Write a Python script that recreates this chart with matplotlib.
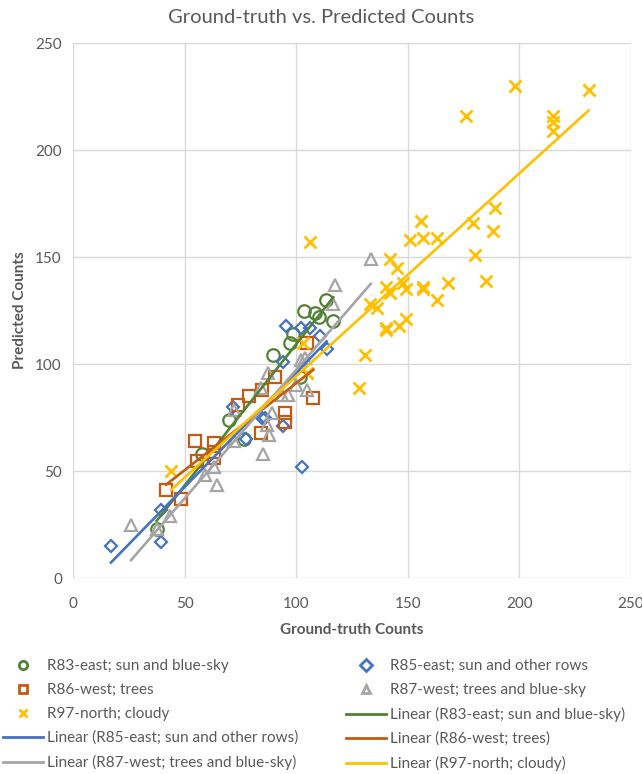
import numpy as np
import matplotlib
matplotlib.use('Agg')
import matplotlib.pyplot as plt
import matplotlib.ticker as tick
from matplotlib.lines import Line2D

plt.rcParams['font.family'] = ['Lato', 'DejaVu Sans']

# R83-east; sun and blue-sky
r83_x = [37.5, 57.7, 70, 76.5, 89.5, 97, 98.7, 101.7, 103.5, 108.4, 110, 113.4, 116.6]
r83_y = [23, 58, 74, 65, 104, 110, 114, 94, 125, 124, 122, 130, 120]
# R85-east; sun and other rows
r85_x = [17, 39.4, 39.4, 71.5, 77.5, 86, 94, 94, 95.4, 102, 106, 110.7, 113.6, 102.5, 84.5]
r85_y = [15, 17, 32, 80, 65, 75, 71, 101, 118, 117, 117, 113, 107, 52, 75]
# R86-west; trees
r86_x = [41.7, 48.5, 54.5, 55.4, 63, 63, 63, 74, 79, 84.5, 84, 90.5, 95, 95, 107.7, 104.7]
r86_y = [41, 37, 64, 54.5, 63, 59, 56, 81, 85, 88, 68, 94, 77, 73, 84, 110]
# R87-west; trees and blue-sky
r87_x = [26, 37.5, 43.5, 59, 63, 64.4, 72, 72, 84, 85, 87, 87.5, 88, 89, 93.5, 96.5,
         100, 102, 104, 104.7, 116.6, 117.4, 133.4]
r87_y = [25, 23, 29, 48, 52, 43.5, 64, 78.5, 89, 58, 71.5, 95.6, 67, 77, 85.5, 85.5,
         90, 102, 103, 88, 128, 137, 149]
# R97-north; cloudy
r97_x = [44, 103, 105, 106, 128, 131, 133, 136, 140, 140, 142, 142, 140, 145, 146, 148,
         149, 149, 151, 156, 157, 157, 157, 163, 163, 168, 176, 179, 180, 185, 188, 189,
         198, 215, 215, 215, 231]
r97_y = [50, 110, 96, 157, 89, 104, 128, 126, 117, 116, 149, 133, 136, 145, 118, 138,
         121, 135, 158, 167, 159, 136, 135, 159, 130, 138, 216, 166, 151, 139, 162, 173,
         230, 216, 213, 209, 228]

series = [
    ('R83-east; sun and blue-sky', r83_x, r83_y, '#548235', 'o', 9),
    ('R85-east; sun and other rows', r85_x, r85_y, '#4472C4', 'D', 6.5),
    ('R86-west; trees', r86_x, r86_y, '#C55A11', 's', 8.5),
    ('R87-west; trees and blue-sky', r87_x, r87_y, '#A5A5A5', '^', 9),
    ('R97-north; cloudy', r97_x, r97_y, '#FFC000', 'x', 8.5),
]

fig = plt.figure(figsize=(6.42, 7.74), dpi=100)
ax = fig.add_axes([0.1137, 0.2532, 0.8693, 0.6912])

mk_handles, ln_handles = [], []
for name, xs, ys, col, m, ms in series:
    if m == 'x':
        ax.plot(xs, ys, ls='none', marker=m, ms=ms, mec=col, mew=2, zorder=3)
    else:
        ax.plot(xs, ys, ls='none', marker=m, ms=ms, mfc='none', mec=col, mew=1.6, zorder=3)
    mk_handles.append(Line2D([], [], ls='none', marker=m, ms=6, mfc='none', mec=col, mew=2, label=name))

# Excel-style linear trendlines, spanning each series' x range
for name, xs, ys, col, m, ms in series:
    xs = np.array(xs)
    k, b = np.polyfit(xs, ys, 1)
    xx = np.array([xs.min(), xs.max()])
    ax.plot(xx, k*xx + b, color=col, lw=1.9, zorder=4)
    ln_handles.append(Line2D([], [], color=col, lw=2, label='Linear (' + name + ')'))

ax.set_xlim(0, 250)
ax.set_ylim(0, 250)
ax.xaxis.set_major_locator(tick.MultipleLocator(50))
ax.yaxis.set_major_locator(tick.MultipleLocator(50))
ax.grid(color='#D9D9D9', lw=1)
ax.set_axisbelow(True)
for s in ax.spines.values():
    s.set_visible(False)
ax.tick_params(length=0, labelsize=11, colors='#595959')
ax.tick_params(axis='x', pad=14)
ax.tick_params(axis='y', pad=8)
ax.set_xlabel('Ground-truth Counts', fontsize=11, fontweight='bold', color='#595959', labelpad=8)
ax.set_ylabel('Predicted Counts', fontsize=11, fontweight='bold', color='#595959', labelpad=6)
fig.text(0.5, 0.978, 'Ground-truth vs. Predicted Counts', ha='center', va='center',
         fontsize=14.5, color='#595959')

allh = mk_handles + ln_handles
order = [0, 2, 4, 6, 8, 1, 3, 5, 7, 9]
hs = [allh[i] for i in order]
fig.legend(handles=hs, loc='upper left', bbox_to_anchor=(-0.005, 0.156), ncol=2,
           frameon=False, fontsize=11, labelcolor='#595959', handlelength=2.6,
           handletextpad=0.3, columnspacing=3.1, labelspacing=0.64, borderaxespad=0)

fig.savefig('out.png', dpi=100)
